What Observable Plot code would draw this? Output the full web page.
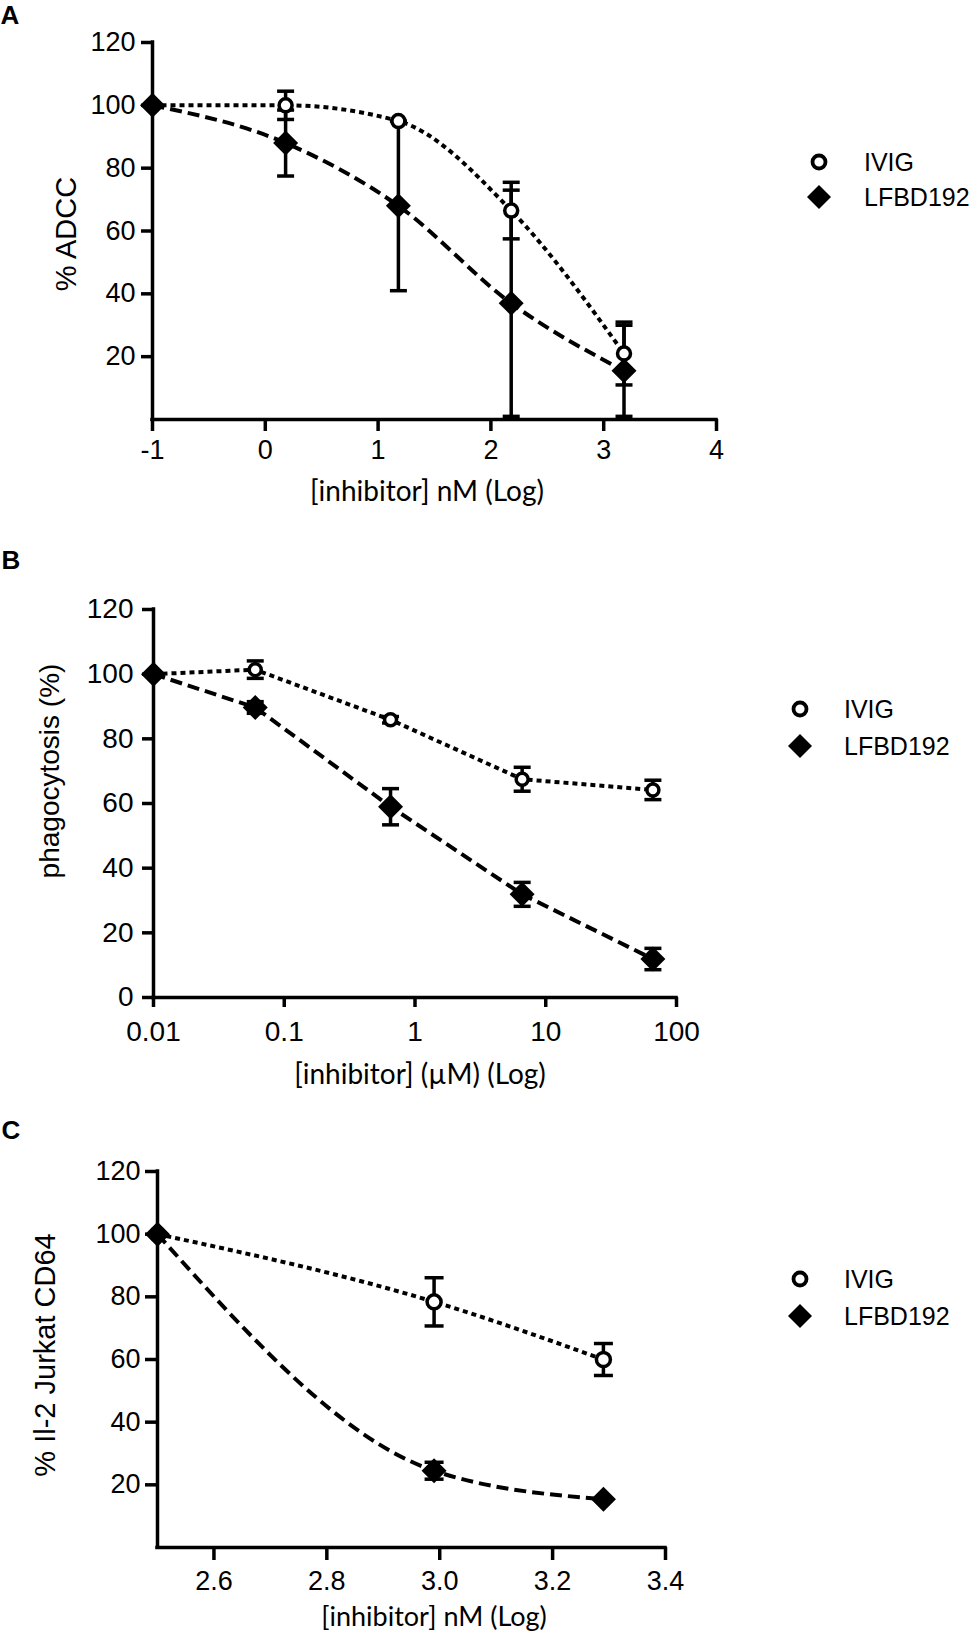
<!DOCTYPE html>
<html>
<head>
<meta charset="utf-8">
<script src="https://cdn.jsdelivr.net/npm/d3@7"></script>
<script src="https://cdn.jsdelivr.net/npm/@observablehq/plot@0.6"></script>
<style>
  html, body { margin: 0; padding: 0; background: #fff; }
  #root { position: relative; width: 979px; height: 1633px; background: #fff; overflow: hidden; color: #000; }
  .abs { position: absolute; }
  .lbl { position: absolute; white-space: nowrap; line-height: 1; color: #000; }
</style>
</head>
<body>
<div id="root"></div>
<script>
// ---------------- DATA ----------------
const seriesNames = ["IVIG", "LFBD192"];

// Panel A: % ADCC vs [inhibitor] nM (Log)
const aDose = [-1, 0.18, 1.18, 2.18, 3.18];
const aIvig = [100, 100, 95, 66.5, 21];
const aIvigErr = [0, 4.5, 0, 9, 10];
const aLfbd = [100, 88, 68, 37, 15.5];
const aLfbdErr = [0, 10.5, 27, 36, 14.5];
const aXTicks = [-1, 0, 1, 2, 3, 4];
const aYTicks = [20, 40, 60, 80, 100, 120];

// Panel B: phagocytosis (%) vs [inhibitor] (µM) (Log)
const bDose = [0.01, 0.06, 0.65, 6.6, 66];
const bIvig = [100, 101.4, 85.9, 67.5, 64.2];
const bIvigErr = [0, 2.7, 1, 3.7, 3];
const bLfbd = [100, 89.7, 59, 31.9, 11.9];
const bLfbdErr = [0, 1.8, 5.6, 3.7, 3.3];
const bXTicks = [0.01, 0.1, 1, 10, 100];
const bYTicks = [0, 20, 40, 60, 80, 100, 120];

// Panel C: % Il-2 Jurkat CD64 vs [inhibitor] nM (Log)
const cDose = [2.5, 2.99, 3.29];
const cIvig = [100, 78.4, 60];
const cIvigErr = [0, 7.7, 5.1];
const cLfbd = [100, 24.5, 15.4];
const cLfbdErr = [0, 2.7, 0];
const cXTicks = [2.6, 2.8, 3.0, 3.2, 3.4];
const cYTicks = [20, 40, 60, 80, 100, 120];

// ---------------- HELPERS ----------------
const root = document.getElementById("root");

const capSymbol = {
  draw(ctx, size) {
    const r = Math.sqrt(size / Math.PI);
    ctx.moveTo(-r, 0);
    ctx.lineTo(r, 0);
  }
};
const diamondSymbol = {
  draw(ctx, size) {
    const r = Math.sqrt(size / Math.PI);
    ctx.moveTo(0, -r);
    ctx.lineTo(r, 0);
    ctx.lineTo(0, r);
    ctx.lineTo(-r, 0);
    ctx.closePath();
  }
};

function rowsOf(dose, ivig, ivigErr, lfbd, lfbdErr) {
  const rows = [];
  dose.forEach((d, i) => rows.push({dose: d, value: ivig[i], err: ivigErr[i], series: seriesNames[0]}));
  dose.forEach((d, i) => rows.push({dose: d, value: lfbd[i], err: lfbdErr[i], series: seriesNames[1]}));
  return rows;
}

function panel(cfg) {
  const rows = rowsOf(cfg.dose, cfg.ivig, cfg.ivigErr, cfg.lfbd, cfg.lfbdErr);
  const errRows = rows.filter(d => d.err > 0);
  const ivigRows = rows.filter(d => d.series === seriesNames[0]);
  const lfbdRows = rows.filter(d => d.series === seriesNames[1]);
  const plot = Plot.plot({
    width: 979,
    height: cfg.height,
    marginTop: cfg.mt,
    marginBottom: cfg.mb,
    marginLeft: cfg.ml,
    marginRight: cfg.mr,
    style: {fontFamily: "'Liberation Sans', Arial, sans-serif", fontSize: cfg.tickFont + "px", color: "#000", background: "transparent", overflow: "visible"},
    x: {type: cfg.xType, domain: cfg.xDomain},
    y: {domain: [0, 120]},
    marks: [
      Plot.axisX({ticks: cfg.xTicks, tickFormat: cfg.xFormat, tickSize: cfg.xTickSize, tickPadding: cfg.xTickPad, strokeWidth: 3.5, fontSize: cfg.tickFont, label: null}),
      Plot.axisY({ticks: cfg.yTicks, tickFormat: d => String(d), tickSize: cfg.yTickSize, tickPadding: cfg.yTickPad, strokeWidth: 3.5, fontSize: cfg.tickFont, label: null}),
      Plot.ruleY([0], {stroke: "#000", strokeWidth: 3.5, strokeLinecap: "square"}),
      Plot.ruleX([cfg.xDomain[0]], {stroke: "#000", strokeWidth: 3.5, strokeLinecap: "square"}),
      Plot.ruleX(errRows, {x: "dose", y1: d => d.value - d.err, y2: d => d.value + d.err, stroke: "#000", strokeWidth: 3.5}),
      Plot.dot(errRows, {x: "dose", y: d => d.value + d.err, symbol: capSymbol, r: cfg.capR, stroke: "#000", strokeWidth: 3.5, fill: "none"}),
      Plot.dot(errRows, {x: "dose", y: d => Math.max(0, d.value - d.err), symbol: capSymbol, r: cfg.capR, stroke: "#000", strokeWidth: 3.5, fill: "none"}),
      Plot.line(ivigRows, {x: "dose", y: "value", curve: cfg.curve, stroke: "#000", strokeWidth: 4, strokeDasharray: "5,4", strokeLinecap: "butt", strokeLinejoin: "miter"}),
      Plot.line(lfbdRows, {x: "dose", y: "value", curve: cfg.curve, stroke: "#000", strokeWidth: 4, strokeDasharray: "12,6", strokeLinecap: "butt", strokeLinejoin: "miter"}),
      Plot.dot(ivigRows, {x: "dose", y: "value", symbol: "circle", r: cfg.circR, fill: "white", stroke: "#000", strokeWidth: 3.5}),
      Plot.dot(lfbdRows, {x: "dose", y: "value", symbol: diamondSymbol, r: 12.5, fill: "#000", stroke: "none"})
    ]
  });
  const holder = document.createElement("div");
  holder.className = "abs";
  holder.style.left = "0px";
  holder.style.top = cfg.top + "px";
  holder.appendChild(plot);
  root.appendChild(holder);
}

function label(text, cx, cy, opts = {}) {
  const el = document.createElement("div");
  el.className = "lbl";
  el.textContent = text;
  el.style.left = cx + "px";
  el.style.top = cy + "px";
  el.style.fontSize = (opts.size || 28) + "px";
  el.style.fontFamily = opts.family || "'Liberation Sans', Arial, sans-serif";
  el.style.fontWeight = opts.weight || "normal";
  if (opts.spacing) el.style.letterSpacing = opts.spacing;
  const anchor = opts.left ? "translate(0,-50%)" : "translate(-50%,-50%)";
  el.style.transform = anchor + (opts.rotate ? " rotate(" + opts.rotate + "deg)" : "");
  root.appendChild(el);
}

function legend(sx, tx, y1, y2) {
  const ns = "http://www.w3.org/2000/svg";
  const svg = document.createElementNS(ns, "svg");
  svg.setAttribute("width", 40);
  svg.setAttribute("height", y2 - y1 + 40);
  svg.style.position = "absolute";
  svg.style.left = (sx - 20) + "px";
  svg.style.top = (y1 - 20) + "px";
  const c = document.createElementNS(ns, "circle");
  c.setAttribute("cx", 20); c.setAttribute("cy", 20); c.setAttribute("r", 6.5);
  c.setAttribute("fill", "white"); c.setAttribute("stroke", "#000"); c.setAttribute("stroke-width", 3.8);
  svg.appendChild(c);
  const p = document.createElementNS(ns, "path");
  const dy = y2 - y1 + 20;
  p.setAttribute("d", `M20,${dy - 12}L32,${dy}L20,${dy + 12}L8,${dy}Z`);
  p.setAttribute("fill", "#000");
  svg.appendChild(p);
  root.appendChild(svg);
  label(seriesNames[0], tx, y1, {size: 25, left: true});
  label(seriesNames[1], tx, y2, {size: 25, left: true});
}

// ---------------- PANELS ----------------
panel({
  top: 0, height: 520, mt: 42, mb: 101, ml: 152, mr: 263,
  xType: "linear", xDomain: [-1, 4], xTicks: aXTicks, xFormat: d => String(d), yTicks: aYTicks,
  dose: aDose, ivig: aIvig, ivigErr: aIvigErr, lfbd: aLfbd, lfbdErr: aLfbdErr,
  curve: "monotone-x", tickFont: 27, xTickSize: 12, xTickPad: 8, yTickSize: 11, yTickPad: 6, capR: 8.5, circR: 6.5
});
panel({
  top: 520, height: 580, mt: 89, mb: 103, ml: 153, mr: 303,
  xType: "log", xDomain: [0.01, 100], xTicks: bXTicks, xFormat: d => String(d), yTicks: bYTicks,
  dose: bDose, ivig: bIvig, ivigErr: bIvigErr, lfbd: bLfbd, lfbdErr: bLfbdErr,
  curve: "linear", tickFont: 28, xTickSize: 10, xTickPad: 14, yTickSize: 11, yTickPad: 9, capR: 8.5, circR: 6
});
panel({
  top: 1100, height: 533, mt: 71, mb: 86, ml: 157, mr: 314,
  xType: "linear", xDomain: [2.5, 3.4], xTicks: cXTicks, xFormat: d3.format(".1f"), yTicks: cYTicks,
  dose: cDose, ivig: cIvig, ivigErr: cIvigErr, lfbd: cLfbd, lfbdErr: cLfbdErr,
  curve: "monotone-x", tickFont: 27, xTickSize: 13, xTickPad: 10, yTickSize: 12, yTickPad: 5, capR: 9.5, circR: 7
});

// Panel letters
label("A", 10, 15, {size: 26, weight: "bold"});
label("B", 11, 560, {size: 26, weight: "bold"});
label("C", 11, 1130, {size: 26, weight: "bold"});

// Axis titles
const xFont = "Lato, 'Open Sans', sans-serif";
label("% ADCC", 66, 234, {size: 29, rotate: -90});
label("[inhibitor] nM (Log)", 427, 490, {size: 28, family: xFont});
label("phagocytosis (%)", 50, 771, {size: 28, rotate: -90});
label("[inhibitor] (µM) (Log)", 420, 1073, {size: 28, family: xFont});
label("% Il-2 Jurkat CD64", 45, 1355, {size: 29, rotate: -90});
label("[inhibitor] nM (Log)", 434, 1615, {size: 27, family: xFont});

// Legends
legend(819, 864, 162, 197);
legend(800, 844, 709, 746);
legend(800, 844, 1279, 1316);
</script>
</body>
</html>
